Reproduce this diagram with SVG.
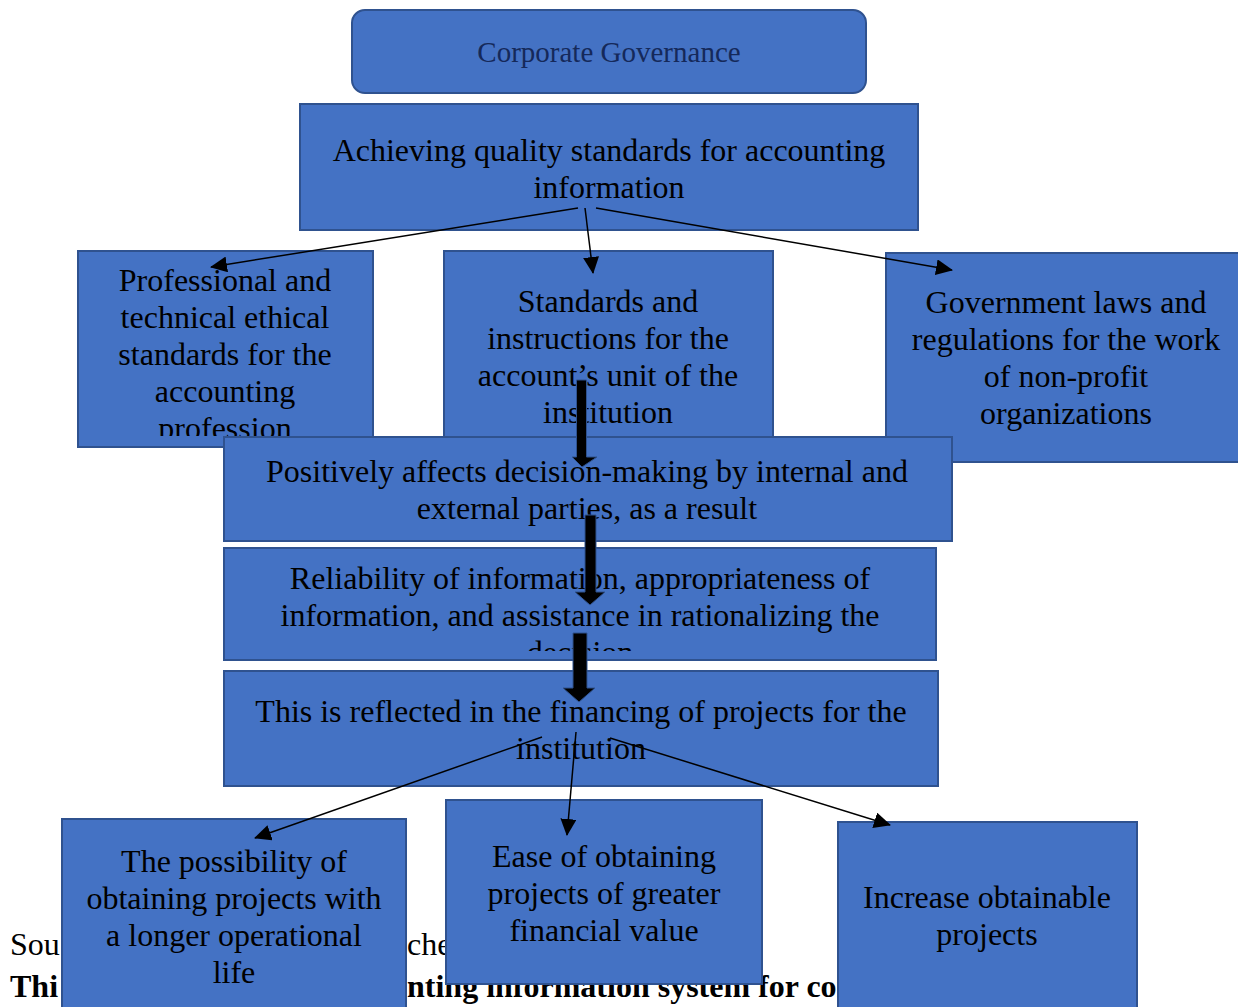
<svg xmlns="http://www.w3.org/2000/svg" width="1238" height="1007" viewBox="0 0 1238 1007">
<style>
.box{fill:#4472C4;stroke:#2F528F;stroke-width:2}
.t{font-family:"Liberation Serif","Times New Roman",serif;font-size:32px;fill:#000;text-anchor:middle}
.bg{font-family:"Liberation Serif","Times New Roman",serif;font-size:32px;fill:#000}
.bgb{font-family:"Liberation Serif","Times New Roman",serif;font-size:32px;font-weight:bold;fill:#000}
.cg{font-family:"Liberation Serif","Times New Roman",serif;font-size:29px;fill:#15295A;text-anchor:middle}
.thin{stroke:#000;stroke-width:1.5;fill:none;marker-end:url(#ah)}
.block{fill:#000;stroke:#2F528F;stroke-width:1}
</style>
<defs>
<marker id="ah" markerUnits="userSpaceOnUse" markerWidth="18" markerHeight="16" refX="16" refY="8" orient="auto">
<path d="M0,0 L17,8 L0,16 z" fill="#000"/>
</marker>
<clipPath id="c2"><rect x="78" y="251" width="295" height="185"/></clipPath>
<clipPath id="c5"><rect x="224" y="548" width="712" height="103"/></clipPath>
</defs>
<g id="background-text">
<text class="bg" x="10" y="955">Sou</text>
<text class="bg" x="407" y="955">che</text>
<text class="bgb" x="10" y="997">Thi</text>
<text class="bgb" x="407" y="997">nting information system for cor</text>
</g>
<g id="n0"><rect class="box" x="352" y="10" width="514" height="83" rx="13"/><text class="cg" x="609" y="62">Corporate Governance</text></g>
<g id="n1"><rect class="box" x="300" y="104" width="618" height="126"/><text class="t" x="609" y="161">Achieving quality standards for accounting</text><text class="t" x="609" y="198">information</text></g>
<g id="n2"><rect class="box" x="78" y="251" width="295" height="196"/><g clip-path="url(#c2)"><text class="t" x="225" y="291">Professional and</text><text class="t" x="225" y="328">technical ethical</text><text class="t" x="225" y="365">standards for the</text><text class="t" x="225" y="402">accounting</text><text class="t" x="225" y="439">profession</text></g></g>
<g id="n3"><rect class="box" x="444" y="251" width="329" height="200"/><text class="t" x="608" y="312">Standards and</text><text class="t" x="608" y="349">instructions for the</text><text class="t" x="608" y="386">account’s unit of the</text><text class="t" x="608" y="423">institution</text></g>
<g id="n4"><rect class="box" x="886" y="253" width="356" height="209"/><text class="t" x="1066" y="313">Government laws and</text><text class="t" x="1066" y="350">regulations for the work</text><text class="t" x="1066" y="387">of non-profit</text><text class="t" x="1066" y="424">organizations</text></g>
<g id="n5"><rect class="box" x="224" y="437" width="728" height="104"/><text class="t" x="587" y="482">Positively affects decision-making by internal and</text><text class="t" x="587" y="519">external parties, as a result</text></g>
<g id="n6"><rect class="box" x="224" y="548" width="712" height="112"/><g clip-path="url(#c5)"><text class="t" x="580" y="589">Reliability of information, appropriateness of</text><text class="t" x="580" y="626">information, and assistance in rationalizing the</text><text class="t" x="580" y="663">decision</text></g></g>
<g id="n7"><rect class="box" x="224" y="671" width="714" height="115"/><text class="t" x="581" y="722">This is reflected in the financing of projects for the</text><text class="t" x="581" y="759">institution</text></g>
<g id="n8"><rect class="box" x="62" y="819" width="344" height="200"/><text class="t" x="234" y="872">The possibility of</text><text class="t" x="234" y="909">obtaining projects with</text><text class="t" x="234" y="946">a longer operational</text><text class="t" x="234" y="983">life</text></g>
<g id="n9"><rect class="box" x="446" y="800" width="316" height="184"/><text class="t" x="604" y="867">Ease of obtaining</text><text class="t" x="604" y="904">projects of greater</text><text class="t" x="604" y="941">financial value</text></g>
<g id="n10"><rect class="box" x="838" y="822" width="299" height="200"/><text class="t" x="987" y="908">Increase obtainable</text><text class="t" x="987" y="945">projects</text></g>
<g id="connectors">
<line class="thin" x1="578" y1="208" x2="211" y2="267"/>
<line class="thin" x1="585" y1="208" x2="593" y2="273"/>
<line class="thin" x1="596" y1="208" x2="952" y2="270"/>
<polygon class="block" points="576.5,380 586.5,380 586.5,457 597,457 582,467 572,457 576.5,457"/>
<polygon class="block" points="585,515 596,515 596,592 605,592 590,605 575,592 585,592"/>
<polygon class="block" points="573,633 587,633 587,688 595,688 579,702 563,688 573,688"/>
<line class="thin" x1="542" y1="737" x2="255" y2="838"/>
<line class="thin" x1="576" y1="732" x2="567" y2="835"/>
<line class="thin" x1="610" y1="738" x2="890" y2="825"/>
</g>
</svg>
